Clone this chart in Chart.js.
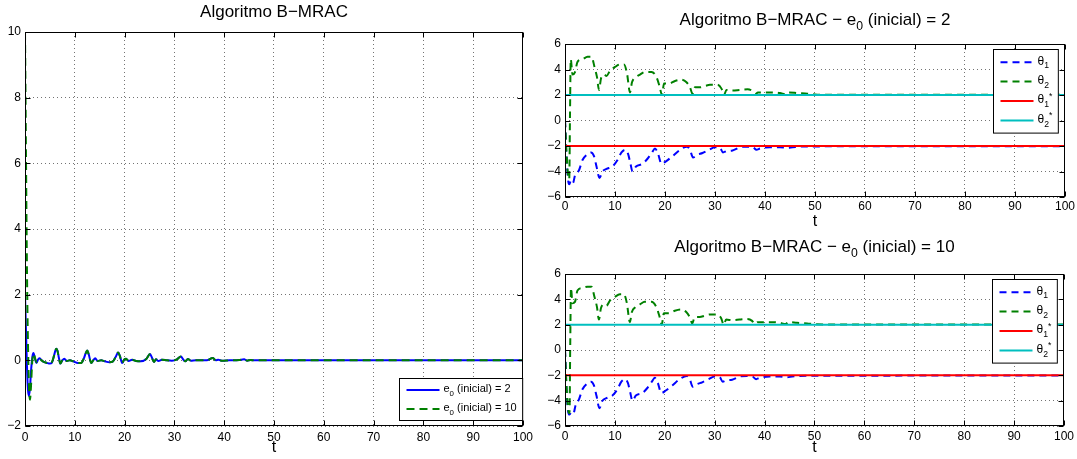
<!DOCTYPE html>
<html>
<head>
<meta charset="utf-8">
<script src="https://cdn.jsdelivr.net/npm/chart.js@4.4.0/dist/chart.umd.min.js"></script>
<style>
  body { margin: 0; background: #fff; width: 1077px; height: 459px; position: relative; overflow: hidden; }
  canvas { position: absolute; }
</style>
</head>
<body>
<canvas id="chartErro" width="537" height="459" style="left:0;top:0"></canvas>
<canvas id="chartTheta2" width="537" height="232" style="left:540px;top:0"></canvas>
<canvas id="chartTheta10" width="537" height="227" style="left:540px;top:232px"></canvas>
<script>
// erro de rastreamento e(t), pares [t, e]
const erroInicial2 = [[0,2],[0.2,0.9],[0.4,-0.2],[0.6,-0.9],[0.8,-1.08],[1.0,-0.85],[1.2,-0.35],[1.5,0.12],[1.7,0.22],[2.0,0.05],[2.3,-0.08],[2.6,0.02],[2.9,0.06],[3.3,0.01],[3.8,-0.05],[4.4,-0.08],[5.0,-0.1],[5.4,-0.07],[5.8,0.12],[6.1,0.3],[6.3,0.35],[6.55,0.28],[6.8,0.08],[7.1,-0.1],[7.5,0.0],[7.9,0.05],[8.4,-0.02],[9.0,0.0],[9.8,-0.04],[10.6,-0.08],[11.3,-0.08],[11.8,0.05],[12.2,0.22],[12.5,0.3],[12.8,0.18],[13.3,-0.08],[13.7,0.0],[14.1,0.06],[14.6,-0.02],[15.3,0.0],[16.0,-0.03],[17.0,-0.06],[17.6,-0.04],[18.2,0.1],[18.7,0.24],[19.05,0.14],[19.5,-0.08],[19.9,0.02],[20.3,0.05],[20.8,-0.02],[21.5,0.02],[22.3,-0.02],[23.3,-0.03],[24.4,0.05],[25.1,0.19],[25.5,0.08],[25.9,-0.05],[26.3,0.03],[26.8,-0.02],[27.5,0.02],[28.5,0.0],[29.5,-0.01],[30.5,0.03],[31.3,0.12],[31.8,0.02],[32.2,-0.03],[32.7,0.04],[33.3,-0.01],[34.3,0.0],[36.5,0.0],[37.7,0.07],[38.3,0.0],[38.8,0.02],[39.5,-0.01],[41.0,0.0],[43.0,0.01],[44.0,0.03],[44.6,-0.01],[45.3,0.01],[46.0,0.0],[100,0.0]];
const erroInicial10 = [[0,10],[0.1,8.2],[0.2,6.2],[0.3,4.3],[0.4,2.7],[0.5,1.4],[0.65,0.1],[0.8,-0.8],[1.0,-1.2],[1.2,-0.8],[1.45,-0.05],[1.75,0.2],[2.0,0.08],[2.3,-0.06],[2.6,0.03],[2.9,0.05],[3.3,0.0],[3.8,-0.05],[4.4,-0.08],[5.0,-0.1],[5.4,-0.06],[5.8,0.13],[6.1,0.3],[6.3,0.35],[6.55,0.27],[6.8,0.07],[7.1,-0.1],[7.5,0.01],[7.9,0.05],[8.4,-0.02],[9.0,0.0],[9.8,-0.04],[10.6,-0.08],[11.3,-0.08],[11.8,0.06],[12.2,0.22],[12.5,0.3],[12.8,0.17],[13.3,-0.08],[13.7,0.0],[14.1,0.06],[14.6,-0.02],[15.3,0.0],[16.0,-0.03],[17.0,-0.06],[17.6,-0.04],[18.2,0.1],[18.7,0.24],[19.05,0.13],[19.5,-0.08],[19.9,0.02],[20.3,0.05],[20.8,-0.02],[21.5,0.02],[22.3,-0.02],[23.3,-0.03],[24.4,0.05],[25.1,0.19],[25.5,0.07],[25.9,-0.05],[26.3,0.03],[26.8,-0.02],[27.5,0.02],[28.5,0.0],[29.5,-0.01],[30.5,0.03],[31.3,0.12],[31.8,0.02],[32.2,-0.03],[32.7,0.04],[33.3,-0.01],[34.3,0.0],[36.5,0.0],[37.7,0.07],[38.3,0.0],[38.8,0.02],[39.5,-0.01],[41.0,0.0],[43.0,0.01],[44.0,0.03],[44.6,-0.01],[45.3,0.01],[46.0,0.0],[100,0.0]];

// parametros estimados, e0 = 2
const theta1Inicial2 = [[0,0],[0.3,-2.8],[0.6,-4.6],[0.85,-5.0],[1.2,-4.7],[1.6,-4.9],[2.0,-4.3],[2.8,-3.9],[3.5,-3.1],[4.3,-2.7],[5.2,-2.5],[5.8,-2.8],[6.3,-3.6],[6.9,-4.5],[7.5,-4.0],[8.3,-3.8],[9.5,-3.6],[10.5,-3.1],[11.3,-2.5],[12.0,-2.3],[12.6,-2.6],[13.1,-3.4],[13.5,-4.0],[14.2,-3.6],[15.5,-3.4],[16.5,-3.0],[17.4,-2.5],[18.0,-2.2],[18.6,-2.6],[19.3,-3.4],[20.2,-3.2],[21.5,-2.8],[23.0,-2.3],[24.4,-2.05],[25.0,-2.3],[25.6,-2.9],[26.4,-2.7],[27.5,-2.55],[28.8,-2.3],[30.0,-2.1],[31.0,-2.15],[31.6,-2.5],[32.3,-2.4],[33.5,-2.35],[35.0,-2.1],[36.5,-2.05],[37.6,-2.1],[38.3,-2.3],[39.0,-2.2],[41.0,-2.1],[43.0,-2.1],[44.5,-2.15],[45.5,-2.1],[47.0,-2.05],[50.0,-2.03],[100,-2.02]];
const theta2Inicial2 = [[0,0],[0.3,-2.5],[0.6,-4.3],[0.85,-4.6],[1.0,0.5],[1.15,4.8],[1.5,3.6],[2.0,3.8],[2.5,4.6],[3.5,4.8],[4.5,5.0],[5.3,5.0],[5.9,4.2],[6.4,3.4],[6.8,2.4],[7.2,3.3],[7.8,3.6],[8.3,3.5],[9.0,3.9],[10.0,4.2],[11.0,4.4],[11.8,4.4],[12.4,3.7],[13.0,2.2],[13.4,3.0],[14.2,3.4],[15.0,3.6],[16.0,3.8],[17.3,3.8],[18.3,3.4],[18.9,2.7],[19.4,2.0],[19.8,2.9],[20.8,2.9],[22.0,3.1],[23.2,3.2],[24.3,3.0],[25.0,2.6],[25.5,2.1],[26.0,2.6],[27.0,2.6],[28.0,2.7],[29.0,2.8],[30.5,2.8],[31.3,2.5],[31.8,2.0],[32.3,2.4],[33.5,2.35],[35.0,2.4],[36.5,2.45],[37.5,2.3],[38.0,2.05],[38.6,2.2],[40.0,2.2],[41.5,2.2],[43.0,2.15],[44.2,2.05],[44.8,2.2],[46.5,2.15],[48.5,2.1],[50.0,2.04],[52.0,2.02],[100,2.02]];

// parametros estimados, e0 = 10
const theta1Inicial10 = [[0,0],[0.3,-3.0],[0.6,-4.8],[0.9,-5.1],[1.3,-4.9],[1.7,-5.0],[2.1,-4.4],[2.8,-3.9],[3.5,-3.1],[4.3,-2.7],[5.2,-2.5],[5.8,-2.8],[6.3,-3.6],[6.9,-4.6],[7.5,-4.0],[8.3,-3.8],[9.5,-3.6],[10.5,-3.1],[11.3,-2.5],[12.0,-2.3],[12.6,-2.6],[13.1,-3.4],[13.5,-4.0],[14.2,-3.6],[15.5,-3.4],[16.5,-3.0],[17.4,-2.5],[18.0,-2.2],[18.6,-2.6],[19.3,-3.4],[20.2,-3.2],[21.5,-2.8],[23.0,-2.3],[24.4,-2.05],[25.0,-2.3],[25.6,-2.9],[26.4,-2.7],[27.5,-2.55],[28.8,-2.3],[30.0,-2.1],[31.0,-2.15],[31.6,-2.5],[32.3,-2.4],[33.5,-2.35],[35.0,-2.1],[36.5,-2.05],[37.6,-2.1],[38.3,-2.3],[39.0,-2.2],[41.0,-2.1],[43.0,-2.1],[44.5,-2.15],[45.5,-2.1],[47.0,-2.05],[50.0,-2.03],[100,-2.02]];
const theta2Inicial10 = [[0,0],[0.3,-2.8],[0.6,-4.6],[0.9,-5.0],[1.05,0.5],[1.2,4.9],[1.5,3.7],[2.0,3.8],[2.5,4.7],[3.5,4.9],[4.5,5.0],[5.3,5.0],[5.9,4.2],[6.4,3.4],[6.8,2.4],[7.2,3.3],[7.8,3.6],[8.3,3.5],[9.0,3.9],[10.0,4.2],[11.0,4.4],[11.8,4.4],[12.4,3.7],[13.0,2.2],[13.4,3.0],[14.2,3.4],[15.0,3.6],[16.0,3.8],[17.3,3.8],[18.3,3.4],[18.9,2.7],[19.4,2.0],[19.8,2.9],[20.8,2.9],[22.0,3.1],[23.2,3.2],[24.3,3.0],[25.0,2.6],[25.5,2.1],[26.0,2.6],[27.0,2.6],[28.0,2.7],[29.0,2.8],[30.5,2.8],[31.3,2.5],[31.8,2.0],[32.3,2.4],[33.5,2.35],[35.0,2.4],[36.5,2.45],[37.5,2.3],[38.0,2.05],[38.6,2.2],[40.0,2.2],[41.5,2.2],[43.0,2.15],[44.2,2.05],[44.8,2.2],[46.5,2.15],[48.5,2.1],[50.0,2.04],[52.0,2.02],[100,2.02]];

// valores ideais
const theta1Ideal = [[0,-2],[100,-2]];
const theta2Ideal = [[0,2],[100,2]];

const tTicks = [0, 10, 20, 30, 40, 50, 60, 70, 80, 90, 100];

const FONT = "'Liberation Sans', Arial, Helvetica, sans-serif";
const AZUL = '#0000ff', VERDE = '#008000', VERMELHO = '#ff0000', CIANO = '#00bfbf';

const pts = arr => arr.map(p => ({x: p[0], y: p[1]}));

// texto com subscrito / sobrescrito, alinhado a esquerda, y = meio
function richWidth(ctx, segs, size) {
  let w = 0;
  segs.forEach(s => {
    ctx.font = ((s.sub || s.sup) ? size * 0.72 : size) + 'px ' + FONT;
    w += ctx.measureText(s.t).width;
  });
  return w;
}
function drawRich(ctx, segs, x, y, size) {
  ctx.textBaseline = 'middle';
  ctx.textAlign = 'left';
  segs.forEach(s => {
    const fs = (s.sub || s.sup) ? size * 0.72 : size;
    ctx.font = fs + 'px ' + FONT;
    const dy = s.sub ? size * 0.4 : (s.sup ? -size * 0.3 : 0);
    ctx.fillText(s.t, x, y + dy);
    x += ctx.measureText(s.t).width;
  });
}

// moldura estilo matlab: caixa, ticks para dentro, titulo e legenda interna
const moldura = {
  id: 'moldura',
  afterDatasetsDraw(chart, args, opts) {
    const {ctx, chartArea: a, scales} = chart;
    const L = Math.round(a.left) + 0.5, R = Math.round(a.right) - 0.5;
    const T = Math.round(a.top) + 0.5, B = Math.round(a.bottom) - 0.5;
    ctx.save();
    ctx.strokeStyle = '#000';
    ctx.lineWidth = 1;
    ctx.setLineDash([]);
    ctx.strokeRect(L, T, R - L, B - T);
    const len = opts.tickLen;
    ctx.beginPath();
    scales.x.ticks.forEach(t => {
      const px = Math.round(scales.x.getPixelForValue(t.value)) + 0.5;
      ctx.moveTo(px, B); ctx.lineTo(px, B - len);
      ctx.moveTo(px, T); ctx.lineTo(px, T + len);
    });
    scales.y.ticks.forEach(t => {
      const py = Math.round(scales.y.getPixelForValue(t.value)) + 0.5;
      ctx.moveTo(L, py); ctx.lineTo(L + len, py);
      ctx.moveTo(R, py); ctx.lineTo(R - len, py);
    });
    ctx.stroke();

    // titulo
    ctx.fillStyle = '#000';
    const tw = richWidth(ctx, opts.title, 17);
    drawRich(ctx, opts.title, (a.left + a.right) / 2 - tw / 2, a.top - opts.titleOffset, 17);

    // legenda
    const lg = opts.legend;
    const fs = lg.fontSize, lineLen = 33, padL = 7, gap = 4, padR = 6;
    let maxW = 0;
    lg.items.forEach(it => { maxW = Math.max(maxW, richWidth(ctx, it.label, fs)); });
    const w = padL + lineLen + gap + maxW + padR;
    const h = lg.items.length * lg.rowH + lg.padY * 2;
    const x0 = Math.round(a.right - lg.dx - w) + 0.5;
    const y0 = lg.corner === 'br' ? Math.round(a.bottom - lg.dy - h) + 0.5 : Math.round(a.top + lg.dy) + 0.5;
    ctx.fillStyle = '#fff';
    ctx.fillRect(x0, y0, w, h);
    ctx.strokeStyle = '#000';
    ctx.strokeRect(x0, y0, w, h);
    lg.items.forEach((it, i) => {
      const ds = chart.data.datasets[it.ds];
      const cy = y0 + lg.padY + lg.rowH * (i + 0.5);
      ctx.strokeStyle = ds.borderColor;
      ctx.lineWidth = ds.borderWidth;
      ctx.setLineDash(ds.borderDash || []);
      ctx.beginPath();
      ctx.moveTo(x0 + padL, cy);
      ctx.lineTo(x0 + padL + lineLen, cy);
      ctx.stroke();
      ctx.setLineDash([]);
      ctx.fillStyle = '#000';
      drawRich(ctx, it.label, x0 + padL + lineLen + gap, cy - 1, fs);
    });
    ctx.restore();
  }
};

function opcoes(cfg) {
  return {
    responsive: false,
    animation: false,
    devicePixelRatio: 1,
    layout: {padding: {top: cfg.top, left: 0, right: 12, bottom: 0}},
    plugins: {
      legend: {display: false},
      title: {display: false},
      tooltip: {enabled: false},
      moldura: {tickLen: 5, title: cfg.title, titleOffset: cfg.titleOffset, legend: cfg.legend}
    },
    scales: {
      x: {
        type: 'linear', min: 0, max: 100,
        afterBuildTicks: s => { s.ticks = tTicks.map(v => ({value: v})); },
        afterFit: s => { s.height = cfg.xHeight; },
        grid: {color: 'rgba(0,0,0,0.55)', drawTicks: false, lineWidth: 1},
        border: {display: false, dash: [1, 3]},
        ticks: {font: {family: FONT, size: 12}, color: '#000', padding: cfg.tickPad, maxRotation: 0, autoSkip: false},
        title: {display: true, text: 't', color: '#000', font: {family: FONT, size: 16}, padding: {top: 0, bottom: cfg.tPad}}
      },
      y: {
        type: 'linear', min: cfg.ymin, max: cfg.ymax,
        afterBuildTicks: s => { s.ticks = cfg.yTicks.map(v => ({value: v})); },
        afterFit: s => { s.width = 25; },
        grid: {color: 'rgba(0,0,0,0.55)', drawTicks: false, lineWidth: 1},
        border: {display: false, dash: [1, 3]},
        ticks: {font: {family: FONT, size: 12}, color: '#000', padding: 4,
          callback: v => (v < 0 ? '\u2212' + Math.abs(v) : String(v))}
      }
    }
  };
}

function linha(label, data, cor, dash, ordem) {
  return {label, data: pts(data), borderColor: cor, backgroundColor: cor, borderWidth: 2,
    borderDash: dash, pointRadius: 0, cubicInterpolationMode: 'monotone', fill: false, order: ordem};
}

const e0 = (v) => [{t: 'e'}, {t: '0', sub: true}, {t: ' (inicial) = ' + v}];
const tituloTheta = (v) => [{t: 'Algoritmo B\u2212MRAC \u2212 e'}, {t: '0', sub: true}, {t: ' (inicial) = ' + v}];
const itensTheta = [
  {ds: 0, label: [{t: '\u03b8'}, {t: '1', sub: true}]},
  {ds: 1, label: [{t: '\u03b8'}, {t: '2', sub: true}]},
  {ds: 2, label: [{t: '\u03b8'}, {t: '1', sub: true}, {t: '*', sup: true}]},
  {ds: 3, label: [{t: '\u03b8'}, {t: '2', sub: true}, {t: '*', sup: true}]}
];

const chartErro = new Chart(document.getElementById('chartErro'), {
  type: 'line',
  data: {datasets: [
    linha('e0 (inicial) = 2', erroInicial2, AZUL, [], 1),
    linha('e0 (inicial) = 10', erroInicial10, VERDE, [8, 5], 0)
  ]},
  options: opcoes({
    top: 32, xHeight: 33, tickPad: 4, tPad: 2, ymin: -2, ymax: 10, yTicks: [-2, 0, 2, 4, 6, 8, 10],
    title: [{t: 'Algoritmo B\u2212MRAC'}], titleOffset: 20,
    legend: {corner: 'br', dx: 1, dy: 6, rowH: 19, padY: 2, fontSize: 11,
      items: [{ds: 0, label: e0(2)}, {ds: 1, label: e0(10)}]}
  }),
  plugins: [moldura]
});

function graficoTheta(id, th1, th2, cfg) {
  return new Chart(document.getElementById(id), {
    type: 'line',
    data: {datasets: [
      linha('theta1', th1, AZUL, [7, 5], 3),
      linha('theta2', th2, VERDE, [7, 5], 2),
      linha('theta1*', theta1Ideal, VERMELHO, [], 1),
      linha('theta2*', theta2Ideal, CIANO, [], 0)
    ]},
    options: opcoes(Object.assign({
      ymin: -6, ymax: 6, yTicks: [-6, -4, -2, 0, 2, 4, 6],
      legend: {corner: 'tr', dx: 7, dy: 5, rowH: 19.4, padY: 3, fontSize: 12, items: itensTheta}
    }, cfg)),
    plugins: [moldura]
  });
}

const chartTheta2 = graficoTheta('chartTheta2', theta1Inicial2, theta2Inicial2,
  {top: 44, xHeight: 35, tickPad: 2, tPad: 1, title: tituloTheta(2), titleOffset: 24});
const chartTheta10 = graficoTheta('chartTheta10', theta1Inicial10, theta2Inicial10,
  {top: 42, xHeight: 33, tickPad: 3, tPad: 2, title: tituloTheta(10), titleOffset: 27});
</script>
</body>
</html>
